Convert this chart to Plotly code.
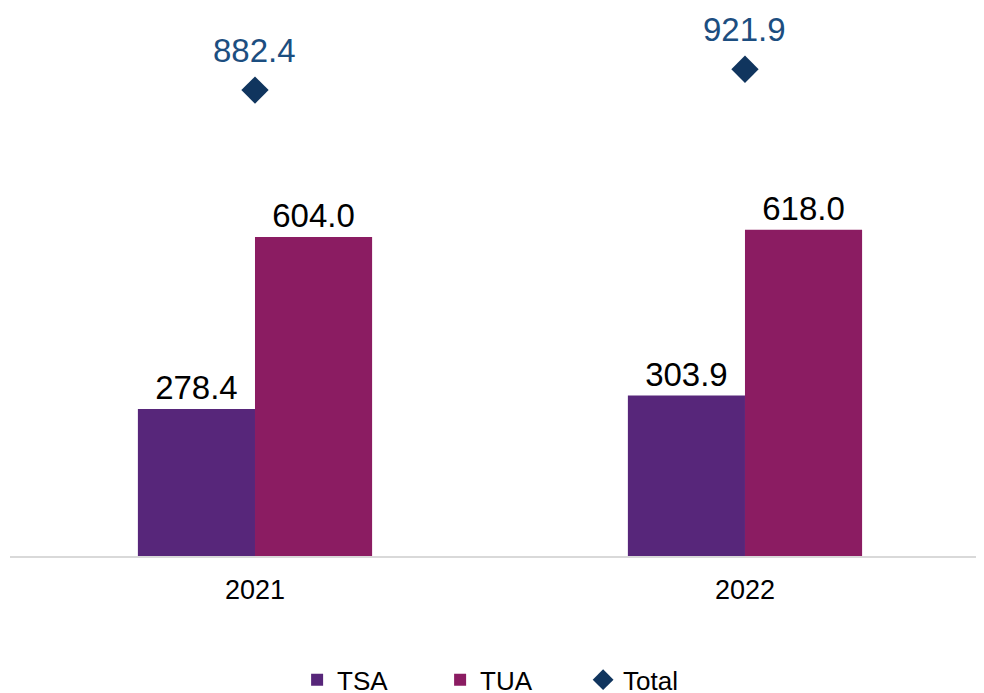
import plotly.graph_objects as go

years = ["2021", "2022"]
tsa = [278.4, 303.9]
tua = [604.0, 618.0]
total = [882.4, 921.9]

FONT = "Liberation Sans, Arial, sans-serif"

fig = go.Figure()
fig.add_trace(go.Bar(
    x=years, y=tsa, name="TSA", marker_color="#57267A", marker_line_width=0,
    text=[f"{v:.1f}" for v in tsa], textposition="outside",
    textfont=dict(size=33, color="#000000", family=FONT), cliponaxis=False,
))
fig.add_trace(go.Bar(
    x=years, y=tua, name="TUA", marker_color="#8B1C62", marker_line_width=0,
    text=[f"{v:.1f}" for v in tua], textposition="outside",
    textfont=dict(size=33, color="#000000", family=FONT), cliponaxis=False,
))
fig.add_trace(go.Scatter(
    x=years, y=total, name="Total", mode="markers",
    marker=dict(symbol="diamond", size=21, color="#10355E"),
    cliponaxis=False,
))
for i, v in enumerate(total):
    fig.add_annotation(x=i, y=v, xref="x", yref="y", text=f"{v:.1f}", showarrow=False,
                       yshift=40, font=dict(size=33, color="#1C4E80", family=FONT))

fig.update_layout(
    width=984, height=693,
    margin=dict(l=2, r=8, t=20, b=145, autoexpand=False),
    paper_bgcolor="white", plot_bgcolor="white",
    barmode="group", bargap=0.522, bargroupgap=0,
    font=dict(family=FONT, color="#000000"),
    showlegend=True,
    legend=dict(orientation="h", x=0.515, xanchor="center",
                y=-0.2345, yanchor="middle",
                font=dict(size=26, family=FONT, color="#000000"),
                entrywidth=98, entrywidthmode="pixels",
                itemwidth=30),
    xaxis=dict(type="category", range=[-0.5, 1.4878], showgrid=False,
               showline=True, linecolor="#D9D9D9", linewidth=1.5,
               ticks="", tickfont=dict(size=27, family=FONT, color="#000000"),
               ticklabelstandoff=9),
    yaxis=dict(range=[0, 1000], visible=False, showgrid=False, zeroline=False),
)

fig.write_html("out.html")
